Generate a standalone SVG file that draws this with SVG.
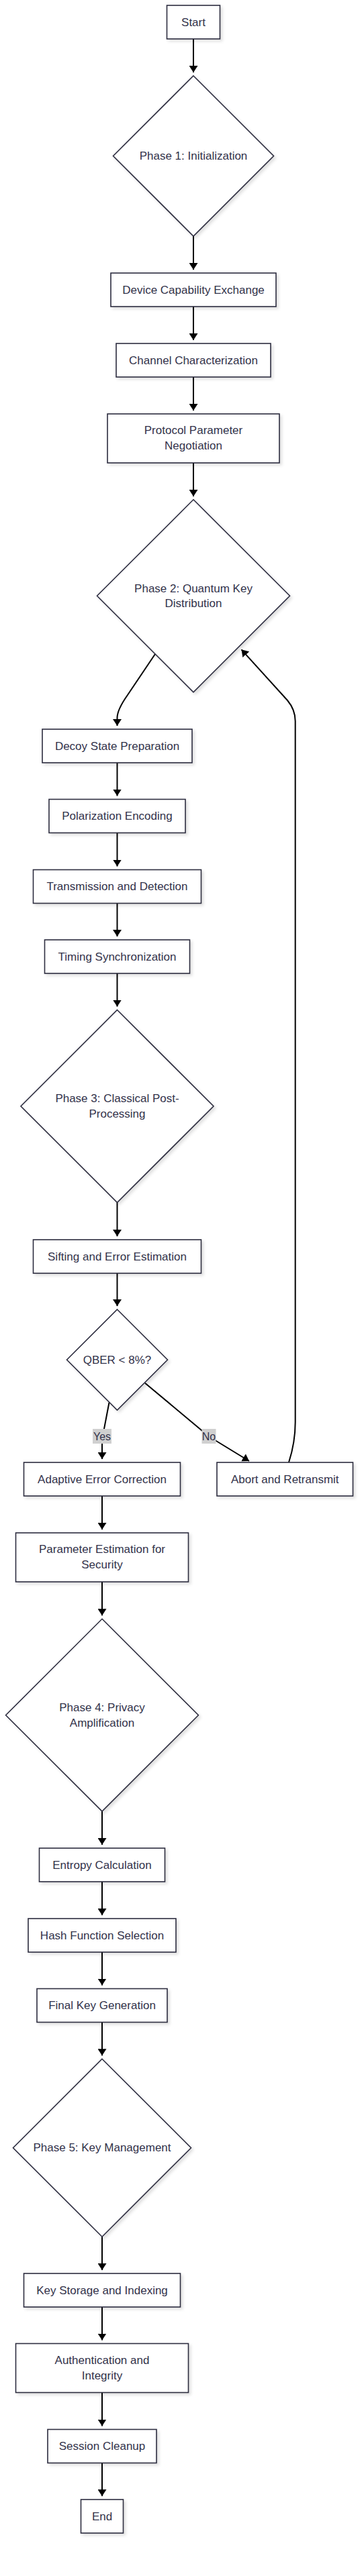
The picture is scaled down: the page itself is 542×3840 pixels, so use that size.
<svg xmlns="http://www.w3.org/2000/svg" width="542" height="3840" viewBox="0 0 542 3840">
<defs>
<style>
.node rect, .node polygon { fill: #ffffff; stroke: #2d2d3f; stroke-width: 1.6; filter: url(#shadow); }
.node text { font-family: "Liberation Sans", Arial, sans-serif; font-size: 17px; fill: #32324a; text-anchor: middle; dominant-baseline: central; }
.edge { fill: none; stroke: #000000; stroke-width: 2; marker-end: url(#arrow); }
.lbl rect { fill: #d0d0d0; stroke: none; }
.lbl text { font-family: "Liberation Sans", Arial, sans-serif; font-size: 16px; fill: #32324a; text-anchor: middle; dominant-baseline: central; }
</style>
<filter id="shadow" x="-10%" y="-10%" width="130%" height="130%">
<feDropShadow dx="3" dy="3" stdDeviation="2" flood-color="#000000" flood-opacity="0.12"/>
</filter>
<marker id="arrow" viewBox="0 0 10 13" refX="10" refY="6.5" markerWidth="10" markerHeight="13" markerUnits="userSpaceOnUse" orient="auto">
<path d="M0,0 L10,6.5 L0,13 z" fill="#000000"/>
</marker>
</defs>
<rect x="0" y="0" width="542" height="3840" fill="#ffffff"/>

<g id="connectors">
<path class="edge" d="M288,58 L288,108"/>
<path class="edge" d="M288,352 L288,402"/>
<path class="edge" d="M288,457 L288,507"/>
<path class="edge" d="M288,562 L288,612"/>
<path class="edge" d="M288,690 L288,740"/>
<path class="edge" d="M231,975 L190,1036 Q174.5,1058 174.5,1070 L174.5,1082"/>
<path class="edge" d="M174.5,1137 L174.5,1186.5"/>
<path class="edge" d="M174.5,1241.5 L174.5,1291.5"/>
<path class="edge" d="M174.5,1346.5 L174.5,1396"/>
<path class="edge" d="M174.5,1451 L174.5,1500.5"/>
<path class="edge" d="M174.5,1792.5 L174.5,1843"/>
<path class="edge" d="M174.5,1898 L174.5,1947"/>
<path class="edge" d="M162.5,2090.7 L155,2130 Q152,2145 152,2155 L152,2175"/>
<path class="edge" d="M216,2061.7 L300,2132 Q311,2141 322,2148 L371,2178"/>
<path class="edge" d="M430,2180 Q439.7,2150 439.7,2120 L439.7,1075 Q439.7,1058 428,1044 L359.5,968.3"/>
<path class="edge" d="M152,2230 L152,2280"/>
<path class="edge" d="M152,2358 L152,2408.3"/>
<path class="edge" d="M152,2700 L152,2750"/>
<path class="edge" d="M152,2805 L152,2855"/>
<path class="edge" d="M152,2910 L152,2959.5"/>
<path class="edge" d="M152,3014.5 L152,3064.2"/>
<path class="edge" d="M152,3334.2 L152,3384"/>
<path class="edge" d="M152,3439 L152,3488.5"/>
<path class="edge" d="M152,3566.5 L152,3616.5"/>
<path class="edge" d="M152,3671.5 L152,3721"/>
<g class="lbl" id="label-yes"><rect x="138" y="2130" width="28" height="22"/><text x="152" y="2141">Yes</text></g>
<g class="lbl" id="label-no"><rect x="300.5" y="2130" width="21" height="22"/><text x="311" y="2141">No</text></g>
</g>

<g class="node" id="start"><rect x="248.5" y="8" width="79" height="50"/><text x="288" y="33">Start</text></g>
<g class="node" id="phase1"><polygon points="288,113 407.5,232.5 288,352 168.5,232.5"/><text x="288" y="232.5">Phase 1: Initialization</text></g>
<g class="node" id="device"><rect x="165" y="407" width="246" height="50"/><text x="288" y="432">Device Capability Exchange</text></g>
<g class="node" id="channel"><rect x="173" y="512" width="230" height="50"/><text x="288" y="537">Channel Characterization</text></g>
<g class="node" id="protocol"><rect x="160" y="617" width="256" height="73"/><text x="288" y="641">Protocol Parameter</text><text x="288" y="664">Negotiation</text></g>
<g class="node" id="phase2"><polygon points="288,744.8 431.5,888.3 288,1031.8 144.5,888.3"/><text x="288" y="877">Phase 2: Quantum Key</text><text x="288" y="899.5">Distribution</text></g>
<g class="node" id="decoy"><rect x="63" y="1087" width="223" height="50"/><text x="174.5" y="1112">Decoy State Preparation</text></g>
<g class="node" id="polarization"><rect x="73" y="1191.5" width="203" height="50"/><text x="174.5" y="1216.5">Polarization Encoding</text></g>
<g class="node" id="transmission"><rect x="49.5" y="1296.5" width="250" height="50"/><text x="174.5" y="1321.5">Transmission and Detection</text></g>
<g class="node" id="timing"><rect x="66.5" y="1401" width="216" height="50"/><text x="174.5" y="1426">Timing Synchronization</text></g>
<g class="node" id="phase3"><polygon points="174.5,1505.5 318,1649 174.5,1792.5 31,1649"/><text x="174.5" y="1637.5">Phase 3: Classical Post-</text><text x="174.5" y="1660.5">Processing</text></g>
<g class="node" id="sifting"><rect x="49.5" y="1848" width="250" height="50"/><text x="174.5" y="1873">Sifting and Error Estimation</text></g>
<g class="node" id="qber"><polygon points="174.5,1952 249.5,2027 174.5,2102 99.5,2027"/><text x="174.5" y="2027">QBER &lt; 8%?</text></g>
<g class="node" id="adaptive"><rect x="35.5" y="2180" width="233" height="50"/><text x="152" y="2205">Adaptive Error Correction</text></g>
<g class="node" id="abort"><rect x="323" y="2180" width="202.5" height="50"/><text x="424.25" y="2205">Abort and Retransmit</text></g>
<g class="node" id="paramest"><rect x="23.5" y="2285" width="257" height="73"/><text x="152" y="2309.5">Parameter Estimation for</text><text x="152" y="2332.5">Security</text></g>
<g class="node" id="phase4"><polygon points="152,2413.3 295.4,2556.7 152,2700 8.6,2556.7"/><text x="152" y="2545">Phase 4: Privacy</text><text x="152" y="2568">Amplification</text></g>
<g class="node" id="entropy"><rect x="58.5" y="2755" width="187" height="50"/><text x="152" y="2780">Entropy Calculation</text></g>
<g class="node" id="hash"><rect x="42" y="2860" width="220" height="50"/><text x="152" y="2885">Hash Function Selection</text></g>
<g class="node" id="finalkey"><rect x="55" y="2964.5" width="194" height="50"/><text x="152" y="2989.5">Final Key Generation</text></g>
<g class="node" id="phase5"><polygon points="152,3069.2 284.5,3201.7 152,3334.2 19.5,3201.7"/><text x="152" y="3201.7">Phase 5: Key Management</text></g>
<g class="node" id="keystorage"><rect x="35.5" y="3389" width="233" height="50"/><text x="152" y="3414">Key Storage and Indexing</text></g>
<g class="node" id="auth"><rect x="23.5" y="3493.5" width="257" height="73"/><text x="152" y="3518">Authentication and</text><text x="152" y="3541">Integrity</text></g>
<g class="node" id="session"><rect x="71" y="3621.5" width="162" height="50"/><text x="152" y="3646.5">Session Cleanup</text></g>
<g class="node" id="end"><rect x="120.5" y="3726" width="63" height="50"/><text x="152" y="3751">End</text></g>
</svg>
